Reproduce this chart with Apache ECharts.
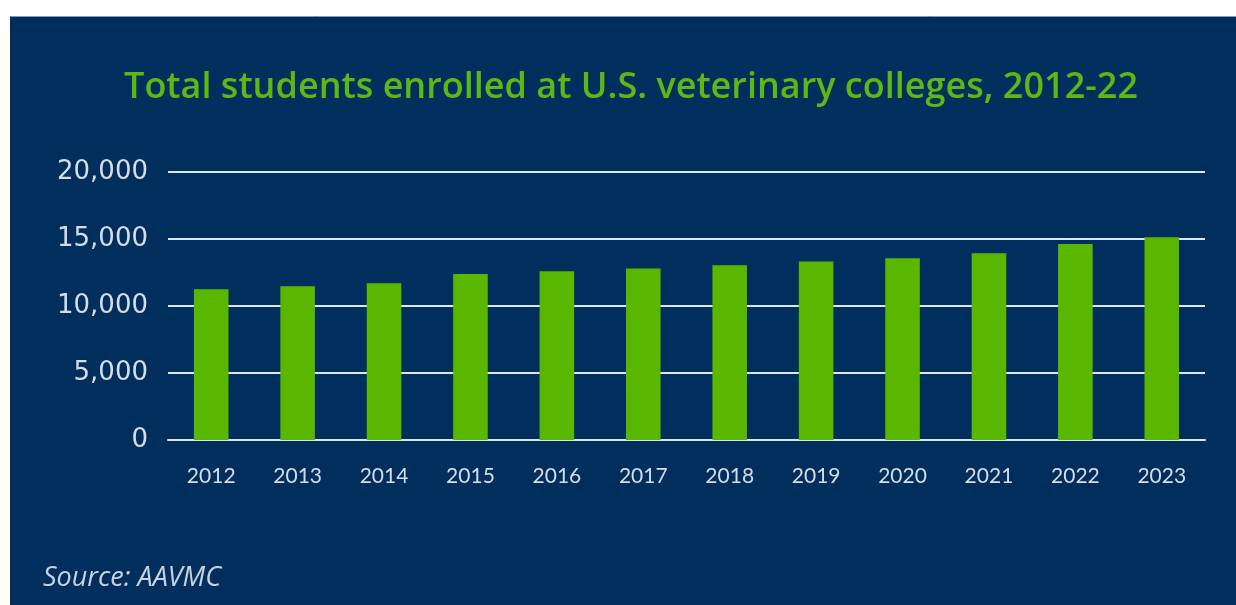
<!DOCTYPE html>
<html>
<head>
<meta charset="utf-8">
<script src="https://cdn.jsdelivr.net/npm/echarts@6/dist/echarts.min.js"></script>
<style>
html,body{margin:0;padding:0;background:#ffffff;}
#chart{width:1236px;height:605px;}
</style>
</head>
<body>
<div id="chart"></div>
<script>
var titleText = 'Total students enrolled at U.S. veterinary colleges, 2012-22';
var sourceText = 'Source: AAVMC';
var years = ['2012','2013','2014','2015','2016','2017','2018','2019','2020','2021','2022','2023'];
var students = [11250, 11470, 11690, 12390, 12590, 12800, 13040, 13330, 13560, 13930, 14630, 15130];
var yTicks = [0, 5000, 10000, 15000, 20000];

var navy = '#002e5d';
var green = '#5ab700';
var gridColor = '#dde4ec';
var labelColor = '#d6dde7';

var chart = echarts.init(document.getElementById('chart'), null, {renderer: 'canvas'});
chart.setOption({
  backgroundColor: '#ffffff',
  animation: false,
  graphic: [
    {type: 'rect', z: -10, silent: true,
     shape: {x: 10, y: 16, width: 1226, height: 589},
     style: {fill: navy}},
    {type: 'line', z: -9, silent: true,
     shape: {x1: 10, y1: 16.5, x2: 1236, y2: 16.5},
     style: {stroke: '#8a9bb0', lineWidth: 1}},
    {type: 'text', silent: true, x: 631, y: 88,
     style: {text: titleText, fill: '#5cb814', font: '600 36px "Open Sans"',
             textAlign: 'center', textVerticalAlign: 'middle'}},
    {type: 'text', silent: true, x: 43, y: 578,
     style: {text: sourceText, fill: '#c9d2de', font: 'italic 27px "Open Sans"',
             textAlign: 'left', textVerticalAlign: 'middle'}}
  ],
  grid: {left: 168, right: 31, top: 172, bottom: 165, containLabel: false},
  xAxis: {
    type: 'category',
    data: years,
    axisLine: {show: true, lineStyle: {color: gridColor, width: 2}},
    axisTick: {show: false},
    axisLabel: {color: labelColor, fontFamily: 'Lato', fontSize: 21, margin: 26}
  },
  yAxis: {
    type: 'value',
    min: 0, max: 20000, interval: 5000,
    axisLine: {show: false},
    axisTick: {show: false},
    splitLine: {show: true, lineStyle: {color: gridColor, width: 2}},
    axisLabel: {
      color: labelColor, fontFamily: 'DejaVu Sans', fontSize: 26, margin: 20,
      formatter: function (v) { return yTicks.indexOf(v) >= 0 ? v.toLocaleString('en-US') : ''; }
    }
  },
  series: [{
    type: 'bar',
    data: students,
    barCategoryGap: '60%',
    itemStyle: {color: green},
    z: 3
  }]
});
</script>
</body>
</html>
